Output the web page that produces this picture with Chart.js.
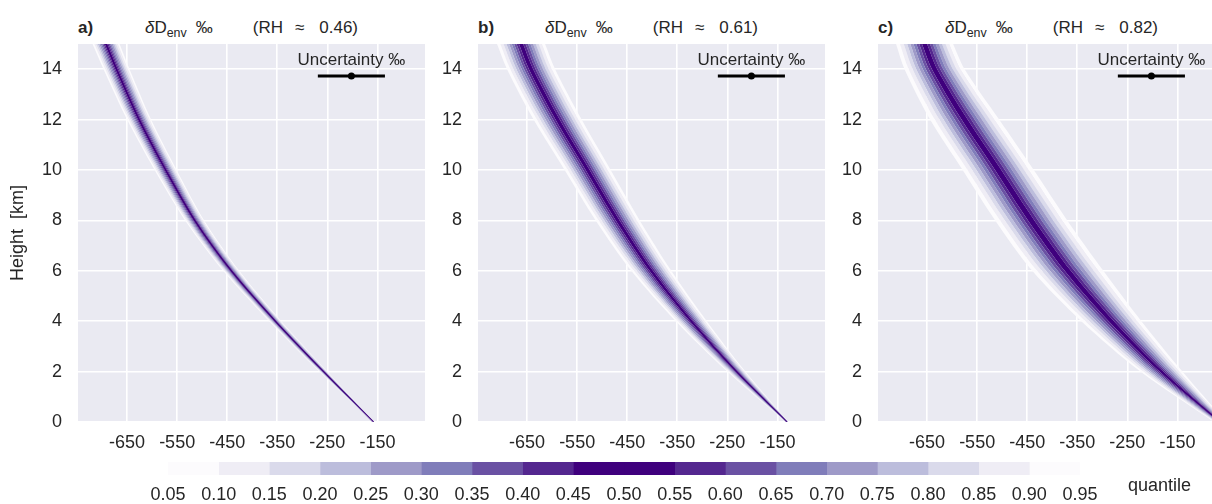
<!DOCTYPE html>
<html>
<head>
<meta charset="utf-8">
<script src="https://cdn.jsdelivr.net/npm/chart.js@4.4.1/dist/chart.umd.min.js"></script>
<style>
  html, body { margin: 0; padding: 0; background: #fff; }
  body { width: 1212px; height: 504px; overflow: hidden; position: relative;
         font-family: "Liberation Sans", Arial, sans-serif; color: #262626; }
  canvas { position: absolute; }
  .tag { position: absolute; top: 18px; font-size: 17px; font-weight: bold; line-height: 20px; }
  .ttl { position: absolute; top: 18px; width: 347px; text-align: center; font-size: 17px;
         line-height: 20px; white-space: nowrap; }
  .ttl .sb { font-size: 0.73em; position: relative; top: 0.3em; }
  .ttl .g1 { margin-left: 9px; }
  .ttl .g2 { margin-left: 40px; }
  .ttl .g3 { margin-left: 12px; }
  .ttl .g4 { margin-left: 15px; }
  #qlabel { position: absolute; left: 1128px; top: 474px; font-size: 18px; line-height: 22px; }
</style>
</head>
<body>
<div class="tag" style="left:78px">a)</div>
<div class="ttl" style="left:78px"><i>δ</i>D<span class="sb">env</span><span class="g1">‰</span><span class="g2">(RH</span><span class="g3">≈</span><span class="g4">0.46)</span></div>
<div class="tag" style="left:478px">b)</div>
<div class="ttl" style="left:478px"><i>δ</i>D<span class="sb">env</span><span class="g1">‰</span><span class="g2">(RH</span><span class="g3">≈</span><span class="g4">0.61)</span></div>
<div class="tag" style="left:878px">c)</div>
<div class="ttl" style="left:878px"><i>δ</i>D<span class="sb">env</span><span class="g1">‰</span><span class="g2">(RH</span><span class="g3">≈</span><span class="g4">0.82)</span></div>

<canvas id="panelA" width="425" height="428" style="left:0px;top:32px;width:425px;height:428px"></canvas>
<canvas id="panelB" width="425" height="428" style="left:400px;top:32px;width:425px;height:428px"></canvas>
<canvas id="panelC" width="425" height="428" style="left:800px;top:32px;width:425px;height:428px"></canvas>
<canvas id="colorbar" width="1212" height="52" style="left:0px;top:452px;width:1212px;height:52px"></canvas>
<div id="qlabel">quantile</div>

<script>
// heights (km) where the quantile curves were read
const heights = [0, 2, 4, 6, 8, 10, 12, 14, 15];

// median dD_env per panel (permil)
const medianA = [-158, -258, -354, -442, -515, -573, -626, -671, -692];
const medianB = [-131, -232, -322, -402, -469, -529, -589, -642, -662];
const medianC = [-65, -182, -282, -369, -442, -508, -575, -635, -655];

// half width of the 5-95 % band per panel (permil)
const spreadA = [2, 8, 12, 16, 19, 22, 24, 26, 27];
const spreadB = [3, 18, 31, 40, 44, 46, 48, 48, 48];
const spreadC = [12, 42, 60, 71, 72, 71, 69, 60, 57];

// quantile levels and their position inside the band (-1 = 5 %, +1 = 95 %)
const quantileLevels = [0.05, 0.10, 0.15, 0.20, 0.25, 0.30, 0.35, 0.40, 0.45, 0.50,
                        0.55, 0.60, 0.65, 0.70, 0.75, 0.80, 0.85, 0.90, 0.95];
const quantileOffsets = [-1, -0.86, -0.73, -0.61, -0.5, -0.39, -0.29, -0.19, -0.09, 0,
                         0.09, 0.19, 0.29, 0.39, 0.5, 0.61, 0.73, 0.86, 1];
const bandColors = ['#fcfbfd', '#efedf5', '#dadaeb', '#bcbddc', '#9e9ac8', '#807dba', '#6a51a3', '#54278f', '#3f007d',
                    '#3f007d', '#54278f', '#6a51a3', '#807dba', '#9e9ac8', '#bcbddc', '#dadaeb', '#efedf5', '#fcfbfd'];

const xTicks = [-650, -550, -450, -350, -250, -150];
const yTicks = [0, 2, 4, 6, 8, 10, 12, 14];

// uncertainty bar: left end, centre, right end, and its height
const uncertaintyX = [-269, -202, -135];
const uncertaintyHeight = 13.73;

const FONT = '"Liberation Sans", Arial, sans-serif';
const TEXT = '#262626';

const plotBg = {
    id: 'plotBg',
    beforeDraw(chart) {
        const a = chart.chartArea;
        const ctx = chart.ctx;
        ctx.save();
        ctx.fillStyle = '#eaeaf2';
        ctx.fillRect(a.left, a.top, a.width, a.height);
        ctx.restore();
    }
};

const uncertaintyLabel = {
    id: 'uncertaintyLabel',
    afterDatasetsDraw(chart) {
        const meta = chart.getDatasetMeta(chart.data.datasets.length - 1);
        const pt = meta.data[1];
        const ctx = chart.ctx;
        ctx.save();
        ctx.font = '17px ' + FONT;
        ctx.fillStyle = TEXT;
        ctx.textAlign = 'center';
        ctx.textBaseline = 'middle';
        ctx.fillText('Uncertainty ‰', pt.x, pt.y - 16);
        ctx.restore();
    }
};

function makePanel(id, median, spread, showTitle) {
    const datasets = quantileLevels.map(function (q, i) {
        const isMedian = q === 0.50;
        return {
            type: 'line',
            indexAxis: 'y',
            data: heights.map(function (h, j) {
                return { x: median[j] + spread[j] * quantileOffsets[i], y: h };
            }),
            borderColor: isMedian ? '#3f007d' : 'rgba(0,0,0,0)',
            borderWidth: isMedian ? 1.5 : 0,
            pointRadius: 0,
            tension: 0.3,
            fill: i === 0 ? false : '-1',
            backgroundColor: i === 0 ? 'rgba(0,0,0,0)' : bandColors[i - 1]
        };
    });
    datasets.push({
        type: 'line',
        indexAxis: 'x',
        data: uncertaintyX.map(function (x) { return { x: x, y: uncertaintyHeight }; }),
        borderColor: '#000',
        borderWidth: 3,
        pointRadius: [0, 3.5, 0],
        pointBackgroundColor: '#000',
        pointBorderWidth: 0,
        tension: 0,
        fill: false
    });

    return new Chart(document.getElementById(id), {
        type: 'line',
        data: { datasets: datasets },
        options: {
            responsive: false,
            animation: false,
            devicePixelRatio: 1,
            layout: { padding: { top: 12, left: 0, right: 0, bottom: 0 } },
            plugins: { legend: { display: false }, tooltip: { enabled: false } },
            scales: {
                x: {
                    type: 'linear',
                    min: -748,
                    max: -55,
                    afterBuildTicks: function (s) { s.ticks = xTicks.map(function (v) { return { value: v }; }); },
                    afterFit: function (s) { s.height = 38; },
                    grid: { color: '#ffffff', lineWidth: 1.6, drawTicks: true, tickLength: 10, tickColor: 'rgba(0,0,0,0)' },
                    border: { display: false },
                    ticks: { padding: 0, color: TEXT, font: { family: FONT, size: 18 } }
                },
                y: {
                    type: 'linear',
                    min: 0,
                    max: 15,
                    afterBuildTicks: function (s) { s.ticks = yTicks.map(function (v) { return { value: v }; }); },
                    afterFit: function (s) { s.width = 78; },
                    grid: { color: '#ffffff', lineWidth: 1.6, drawTicks: true, tickLength: 16, tickColor: 'rgba(0,0,0,0)' },
                    border: { display: false },
                    ticks: { padding: 0, color: TEXT, font: { family: FONT, size: 18 } },
                    title: {
                        display: showTitle,
                        text: 'Height  [km]',
                        color: TEXT,
                        font: { family: FONT, size: 18 },
                        padding: { top: 7, bottom: 0 }
                    }
                }
            }
        },
        plugins: [plotBg, uncertaintyLabel]
    });
}

makePanel('panelA', medianA, spreadA, true);
makePanel('panelB', medianB, spreadB, false);
makePanel('panelC', medianC, spreadC, false);

// colour bar
new Chart(document.getElementById('colorbar'), {
    type: 'bar',
    data: {
        labels: ['q'],
        datasets: bandColors.map(function (c, i) {
            return {
                data: [[quantileLevels[i], quantileLevels[i + 1]]],
                backgroundColor: c,
                borderWidth: 0,
                grouped: false,
                barPercentage: 1,
                categoryPercentage: 1
            };
        })
    },
    options: {
        indexAxis: 'y',
        responsive: false,
        animation: false,
        devicePixelRatio: 1,
        layout: { padding: { top: 10, left: 168, right: 132, bottom: 0 } },
        plugins: { legend: { display: false }, tooltip: { enabled: false } },
        scales: {
            x: {
                type: 'linear',
                min: 0.05,
                max: 0.95,
                afterBuildTicks: function (s) { s.ticks = quantileLevels.map(function (v) { return { value: v }; }); },
                afterFit: function (s) { s.height = 29; },
                grid: { display: false, drawTicks: false },
                border: { display: false },
                ticks: {
                    padding: 9,
                    color: TEXT,
                    font: { family: FONT, size: 18 },
                    callback: function (v) { return v.toFixed(2); }
                }
            },
            y: { display: false }
        }
    }
});
</script>
</body>
</html>
